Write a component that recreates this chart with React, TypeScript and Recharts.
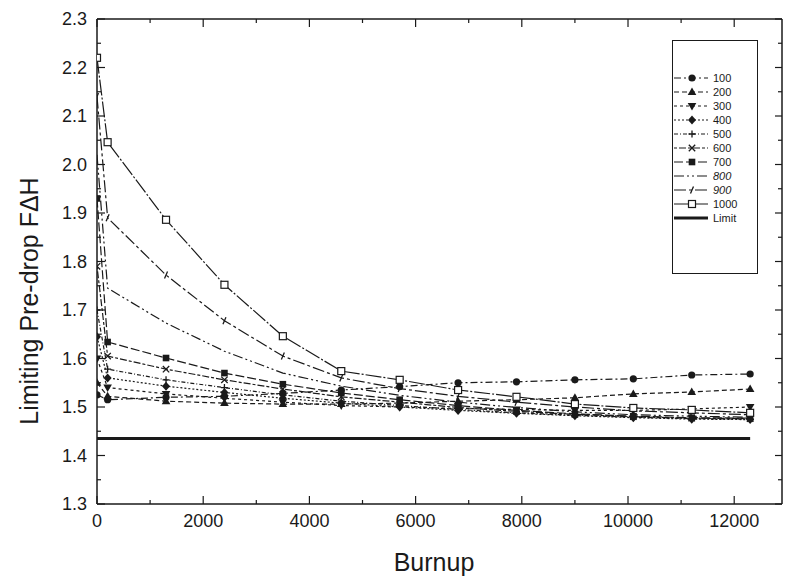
import React from "react";
import { LineChart, Line, XAxis, YAxis, Legend } from "recharts";

// burnup points (x) and limiting pre-drop FdH per series
const burnup = [0, 200, 1300, 2400, 3500, 4600, 5700, 6800, 7900, 9000, 10100, 11200, 12300];
const s100 = [1.525, 1.515, 1.52, 1.522, 1.528, 1.535, 1.542, 1.55, 1.552, 1.556, 1.558, 1.566, 1.568];
const s200 = [1.55, 1.522, 1.512, 1.508, 1.506, 1.506, 1.508, 1.512, 1.515, 1.519, 1.527, 1.531, 1.537];
const s300 = [1.6, 1.54, 1.527, 1.518, 1.51, 1.503, 1.5, 1.497, 1.495, 1.493, 1.493, 1.496, 1.5];
const s400 = [1.645, 1.56, 1.543, 1.53, 1.518, 1.508, 1.5, 1.493, 1.487, 1.482, 1.478, 1.475, 1.474];
const s500 = [1.7, 1.578, 1.556, 1.54, 1.525, 1.512, 1.503, 1.495, 1.488, 1.483, 1.479, 1.476, 1.475];
const s600 = [1.79, 1.605, 1.578, 1.556, 1.537, 1.521, 1.51, 1.499, 1.491, 1.485, 1.48, 1.477, 1.476];
const s700 = [1.93, 1.634, 1.601, 1.57, 1.547, 1.529, 1.515, 1.503, 1.493, 1.486, 1.481, 1.478, 1.477];
const s800 = [2.02, 1.745, 1.673, 1.615, 1.57, 1.543, 1.524, 1.51, 1.499, 1.49, 1.484, 1.481, 1.479];
const s900 = [2.14, 1.89, 1.772, 1.678, 1.605, 1.56, 1.538, 1.522, 1.51, 1.5, 1.492, 1.488, 1.484];
const s1000 = [2.22, 2.046, 1.886, 1.752, 1.646, 1.574, 1.556, 1.535, 1.521, 1.506, 1.498, 1.494, 1.488];
const limit = [1.435, 1.435, 1.435, 1.435, 1.435, 1.435, 1.435, 1.435, 1.435, 1.435, 1.435, 1.435, 1.435];

const xTicks = [0, 1000, 2000, 3000, 4000, 5000, 6000, 7000, 8000, 9000, 10000, 11000, 12000];
const yTicks = [1.3, 1.35, 1.4, 1.45, 1.5, 1.55, 1.6, 1.65, 1.7, 1.75, 1.8, 1.85, 1.9, 1.95, 2.0, 2.05, 2.1, 2.15, 2.2, 2.25, 2.3];

const ink = "#1a1a1a";
const font = "'Liberation Sans', Arial, sans-serif";

const series = [
  { key: "s100", name: "100", values: s100, dash: "7 3 2 3", mark: "circle" },
  { key: "s200", name: "200", values: s200, dash: "5 3", mark: "triUp" },
  { key: "s300", name: "300", values: s300, dash: "3 3", mark: "triDown" },
  { key: "s400", name: "400", values: s400, dash: "2 2", mark: "diamond" },
  { key: "s500", name: "500", values: s500, dash: "4 2 1 2", mark: "plus" },
  { key: "s600", name: "600", values: s600, dash: "3 2 7 2", mark: "cross" },
  { key: "s700", name: "700", values: s700, dash: "9 3", mark: "square" },
  { key: "s800", name: "800", values: s800, dash: "10 3 2 3 2 3", mark: "none" },
  { key: "s900", name: "900", values: s900, dash: "12 3 3 3", mark: "tick" },
  { key: "s1000", name: "1000", values: s1000, dash: "16 2 2 2", mark: "open" },
];
const legendOrder = [...series.map((s) => s.key), "limit"];

const rows = burnup.map((x, i) => {
  const row: any = { x, limit: limit[i] };
  series.forEach((s) => (row[s.key] = s.values[i]));
  return row;
});

function Marker({ cx, cy, mark }: { cx: number; cy: number; mark: string }) {
  if (cx == null || cy == null) return <g />;
  switch (mark) {
    case "circle":
      return <circle cx={cx} cy={cy} r={3.6} fill={ink} />;
    case "triUp":
      return <polygon points={`${cx},${cy - 4.5} ${cx + 4.3},${cy + 3} ${cx - 4.3},${cy + 3}`} fill={ink} />;
    case "triDown":
      return <polygon points={`${cx},${cy + 4.5} ${cx + 4.3},${cy - 3} ${cx - 4.3},${cy - 3}`} fill={ink} />;
    case "diamond":
      return <polygon points={`${cx},${cy - 4.5} ${cx + 4},${cy} ${cx},${cy + 4.5} ${cx - 4},${cy}`} fill={ink} />;
    case "plus":
      return <path d={`M${cx - 3.5},${cy}H${cx + 3.5}M${cx},${cy - 3.5}V${cy + 3.5}`} stroke={ink} strokeWidth={1.3} />;
    case "cross":
      return <path d={`M${cx - 3.2},${cy - 3.2}L${cx + 3.2},${cy + 3.2}M${cx - 3.2},${cy + 3.2}L${cx + 3.2},${cy - 3.2}`} stroke={ink} strokeWidth={1.3} />;
    case "square":
      return <rect x={cx - 3.3} y={cy - 3.3} width={6.6} height={6.6} fill={ink} />;
    case "tick":
      return <path d={`M${cx - 1.5},${cy + 3.5}L${cx + 1.5},${cy - 3.5}`} stroke={ink} strokeWidth={1.3} />;
    case "open":
      return <rect x={cx - 3.5} y={cy - 3.5} width={7} height={7} fill="#fff" stroke={ink} strokeWidth={1.2} />;
    default:
      return <g />;
  }
}

const LeftTick = (props: any) => {
  const { x, y, payload } = props;
  const v = payload.value;
  const major = Math.round(v * 100) % 10 === 0;
  return (
    <g>
      <line x1={x} y1={y} x2={x + (major ? 8 : 4)} y2={y} stroke={ink} strokeWidth={1.2} />
      {major && (
        <text x={x - 10} y={y} dy="0.36em" textAnchor="end" fontSize={18} fill={ink} fontFamily={font}>
          {v.toFixed(1)}
        </text>
      )}
    </g>
  );
};

const RightTick = (props: any) => {
  const { x, y, payload } = props;
  const major = Math.round(payload.value * 100) % 10 === 0;
  return <line x1={x} y1={y} x2={x - (major ? 7 : 4)} y2={y} stroke={ink} strokeWidth={1.2} />;
};

const BottomTick = (props: any) => {
  const { x, y, payload } = props;
  const v = payload.value;
  const major = v % 2000 === 0;
  return (
    <g>
      <line x1={x} y1={y} x2={x} y2={y - (major ? 8 : 4)} stroke={ink} strokeWidth={1.2} />
      {major && (
        <text x={x} y={y + 23} textAnchor="middle" fontSize={18} fill={ink} fontFamily={font}>
          {v}
        </text>
      )}
    </g>
  );
};

const TopTick = (props: any) => {
  const { x, y, payload } = props;
  const major = payload.value % 2000 === 0;
  return <line x1={x} y1={y} x2={x} y2={y + (major ? 8 : 4)} stroke={ink} strokeWidth={1.2} />;
};

const byKey: any = {};
series.forEach((s) => (byKey[s.key] = s));

const renderLegend = (props: any) => {
  const items = [...(props.payload || [])].sort(
    (a: any, b: any) => legendOrder.indexOf(a.dataKey) - legendOrder.indexOf(b.dataKey)
  );
  return (
    <div
      style={{
        border: `1.5px solid ${ink}`,
        width: 86,
        height: 234,
        boxSizing: "border-box",
        paddingTop: 30,
        background: "#fff",
        fontFamily: font,
        fontSize: 11,
        color: ink,
      }}
    >
      {items.map((it: any) => {
        const s = byKey[it.dataKey];
        const isLimit = it.dataKey === "limit";
        return (
          <div key={it.dataKey} style={{ height: 14, display: "flex", alignItems: "center" }}>
            <svg width={38} height={14} style={{ display: "block" }}>
              <line
                x1={1}
                y1={7}
                x2={35}
                y2={7}
                stroke={ink}
                strokeWidth={isLimit ? 3 : 1.2}
                strokeDasharray={isLimit ? undefined : s.dash}
              />
              {!isLimit && <Marker cx={19} cy={7} mark={s.mark} />}
            </svg>
            <span style={{ marginLeft: 2, fontStyle: it.value === "800" || it.value === "900" ? "italic" : "normal" }}>
              {it.value}
            </span>
          </div>
        );
      })}
    </div>
  );
};

export default function App() {
  return (
    <div style={{ position: "absolute", left: 0, top: 0, width: 786, height: 579, background: "#fff" }}>
      <LineChart width={786} height={579} data={rows} margin={{ top: 18, right: 3, bottom: 45, left: 37 }}>
        <XAxis
          xAxisId="b"
          type="number"
          dataKey="x"
          domain={[0, 12900]}
          allowDataOverflow
          ticks={xTicks}
          interval={0}
          height={30}
          tickSize={0}
          tickMargin={0}
          tickLine={false}
          tick={<BottomTick />}
          axisLine={{ stroke: ink, strokeWidth: 1.5 }}
        />
        <XAxis
          xAxisId="t"
          orientation="top"
          type="number"
          dataKey="x"
          domain={[0, 12900]}
          allowDataOverflow
          ticks={xTicks}
          interval={0}
          height={1}
          tickSize={0}
          tickMargin={0}
          tickLine={false}
          tick={<TopTick />}
          axisLine={{ stroke: ink, strokeWidth: 1.5 }}
        />
        <YAxis
          yAxisId="l"
          type="number"
          domain={[1.3, 2.3]}
          allowDataOverflow
          ticks={yTicks}
          interval={0}
          width={60}
          tickSize={0}
          tickMargin={0}
          tickLine={false}
          tick={<LeftTick />}
          axisLine={{ stroke: ink, strokeWidth: 1.5 }}
        />
        <YAxis
          yAxisId="r"
          orientation="right"
          type="number"
          domain={[1.3, 2.3]}
          allowDataOverflow
          ticks={yTicks}
          interval={0}
          width={1}
          tickSize={0}
          tickMargin={0}
          tickLine={false}
          tick={<RightTick />}
          axisLine={{ stroke: ink, strokeWidth: 1.5 }}
        />
        {series.map((s) => (
          <Line
            key={s.key}
            xAxisId="b"
            yAxisId="l"
            type="linear"
            dataKey={s.key}
            name={s.name}
            stroke={ink}
            strokeWidth={1.2}
            strokeDasharray={s.dash}
            isAnimationActive={false}
            dot={
              s.mark === "none"
                ? false
                : (p: any) => <Marker key={`${s.key}-${p.index}`} cx={p.cx} cy={p.cy} mark={s.mark} />
            }
            activeDot={false}
          />
        ))}
        <Line
          xAxisId="b"
          yAxisId="l"
          type="linear"
          dataKey="limit"
          name="Limit"
          stroke={ink}
          strokeWidth={3}
          dot={false}
          activeDot={false}
          isAnimationActive={false}
        />
        <Legend
          layout="vertical"
          align="center"
          verticalAlign="middle"
          width={86}
          height={234}
          content={renderLegend}
          wrapperStyle={{ left: 672, top: 40, width: 86, height: 234 }}
        />
      </LineChart>
      <div
        style={{
          position: "absolute",
          left: 434,
          top: 562,
          transform: "translate(-50%, -50%)",
          fontFamily: font,
          fontSize: 25,
          lineHeight: 1,
          color: ink,
          whiteSpace: "nowrap",
        }}
      >
        Burnup
      </div>
      <div
        style={{
          position: "absolute",
          left: 29,
          top: 301,
          transform: "translate(-50%, -50%) rotate(-90deg)",
          fontFamily: font,
          fontSize: 25,
          lineHeight: 1,
          color: ink,
          whiteSpace: "nowrap",
        }}
      >
        Limiting Pre-drop FΔH
      </div>
    </div>
  );
}
